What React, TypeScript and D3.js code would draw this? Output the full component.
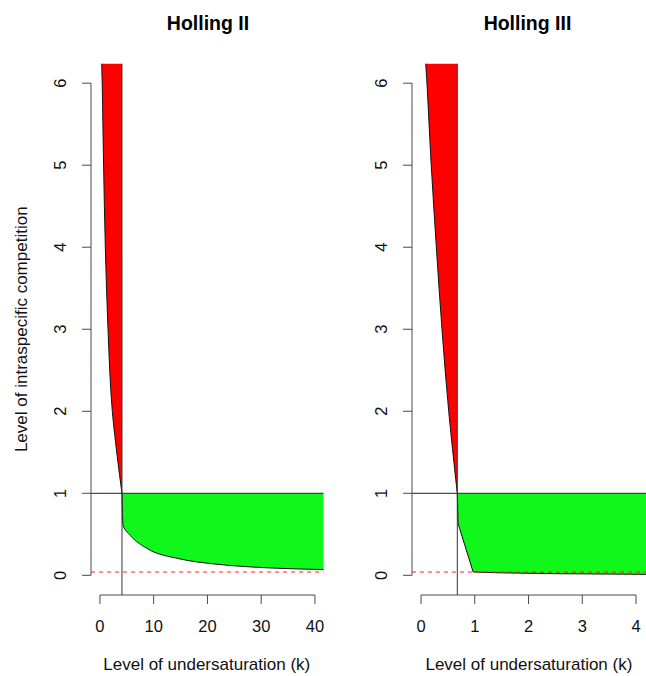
import React from "react";
import * as d3 from "d3";

// ---- data ----
const yTicks = [0, 1, 2, 3, 4, 5, 6];
const xTicksII = [0, 10, 20, 30, 40];
const xTicksIII = [0, 1, 2, 3, 4];

const kStarII = 4.1;
const kMaxII = 41.6;
const redKII = [0.32, 0.42, 0.68, 1.0, 1.5, 2.3, 4.1];
const redYII = [6.24, 6, 5, 4, 3, 2, 1];
const greenKII = [4.1, 4.3, 5.6, 8.7, 14.9, 21, 27.3, 33.5, 41.6];
const greenYII = [1, 0.61, 0.49, 0.33, 0.2, 0.14, 0.105, 0.085, 0.07];

const kStarIII = 0.675;
const kMaxIII = 4.2;
const redKIII = [0.087, 0.11, 0.19, 0.285, 0.39, 0.515, 0.675];
const redYIII = [6.24, 6, 5, 4, 3, 2, 1];
const greenKIII = [0.675, 0.69, 0.97, 1.5, 2.5, 3.5, 4.2];
const greenYIII = [1, 0.63, 0.04, 0.03, 0.02, 0.015, 0.012];

const threshold = 0.04;
const yTop = 6.24;

const W = 646;
const H = 676;
const FONT = "Liberation Sans, Arial, Helvetica, sans-serif";
const AXIS = "#4a4a4a";

function expand(lo: number, hi: number): [number, number] {
  const d = (hi - lo) * 0.04;
  return [lo - d, hi + d];
}

type PanelProps = {
  title: string;
  titleX: number;
  left: number;
  right: number;
  xMax: number;
  xTicks: number[];
  kStar: number;
  kMax: number;
  redK: number[];
  redY: number[];
  greenK: number[];
  greenY: number[];
  curve: d3.CurveFactory;
  showYLabel: boolean;
  clipId: string;
};

const yScale = d3.scaleLinear().domain(expand(0, 6)).range([595, 63.5]);

function Panel(p: PanelProps) {
  const x = d3.scaleLinear().domain(expand(0, p.xMax)).range([p.left, p.right]);
  const y = yScale;
  const bottom = y.range()[0];

  const redPts: [number, number][] = p.redK.map((k, i) => [x(k), y(p.redY[i])]);
  const greenPts: [number, number][] = p.greenK.map((k, i) => [x(k), y(p.greenY[i])]);

  const redLine = d3.line().curve(d3.curveCatmullRom.alpha(0.5))(redPts) || "";
  const greenLine = d3.line().curve(p.curve)(greenPts) || "";

  const redArea =
    redLine +
    `L${x(p.kStar)},${y(p.redY[p.redY.length - 1])}L${x(p.kStar)},${y(yTop)}Z`;
  const greenArea = greenLine + `L${x(p.kMax)},${y(1)}L${x(p.kStar)},${y(1)}Z`;

  const axisX = p.left;
  const midX = (p.left + p.right) / 2;

  return (
    <g>
      <defs>
        <clipPath id={p.clipId}>
          <rect x={p.left} y={y.range()[1]} width={p.right - p.left} height={bottom - y.range()[1]} />
        </clipPath>
      </defs>
      <g clipPath={`url(#${p.clipId})`}>
        <path d={redArea} fill="#ff0000" stroke="none" />
        <path d={greenArea} fill="#10f71c" stroke="none" />
        <path d={redLine} fill="none" stroke="#111" strokeWidth={1} />
        <path d={greenLine} fill="none" stroke="#111" strokeWidth={1} />
        <line x1={p.left} x2={x(p.kMax)} y1={y(1)} y2={y(1)} stroke="#222" strokeWidth={1} />
        <line x1={x(p.kStar)} x2={x(p.kStar)} y1={y(yTop)} y2={bottom} stroke="#333" strokeWidth={1} />
        <line
          x1={p.left}
          x2={x(p.kMax)}
          y1={y(threshold)}
          y2={y(threshold)}
          stroke="#ff2020"
          strokeWidth={1}
          strokeDasharray="4,4"
        />
      </g>
      {/* y axis */}
      <line x1={axisX} x2={axisX} y1={y(0)} y2={y(6)} stroke={AXIS} strokeWidth={1} />
      {yTicks.map((t) => (
        <g key={"y" + t}>
          <line x1={axisX - 9} x2={axisX} y1={y(t)} y2={y(t)} stroke={AXIS} strokeWidth={1} />
          <text
            transform={`translate(${axisX - 25},${y(t)}) rotate(-90)`}
            textAnchor="middle"
            fontFamily={FONT}
            fontSize={16.5}
            fill="#111"
          >
            {t}
          </text>
        </g>
      ))}
      {/* x axis */}
      <line
        x1={x(p.xTicks[0])}
        x2={x(p.xTicks[p.xTicks.length - 1])}
        y1={bottom}
        y2={bottom}
        stroke={AXIS}
        strokeWidth={1}
      />
      {p.xTicks.map((t) => (
        <g key={"x" + t}>
          <line x1={x(t)} x2={x(t)} y1={bottom} y2={bottom + 9} stroke={AXIS} strokeWidth={1} />
          <text x={x(t)} y={632} textAnchor="middle" fontFamily={FONT} fontSize={16.5} fill="#111">
            {t}
          </text>
        </g>
      ))}
      <text x={p.titleX} y={30} textAnchor="middle" fontFamily={FONT} fontSize={19.5} fontWeight="bold" fill="#000">
        {p.title}
      </text>
      <text x={midX - 5} y={670} textAnchor="middle" fontFamily={FONT} fontSize={17} fill="#111">
        Level of undersaturation (k)
      </text>
      {p.showYLabel && (
        <text
          transform={`translate(27,${(y.range()[0] + y.range()[1]) / 2}) rotate(-90)`}
          textAnchor="middle"
          fontFamily={FONT}
          fontSize={17}
          fill="#111"
        >
          Level of intraspecific competition
        </text>
      )}
    </g>
  );
}

export default function App() {
  return (
    <svg
      width={W}
      height={H}
      viewBox={`0 0 ${W} ${H}`}
      style={{ position: "absolute", left: 0, top: 0, background: "#fff" }}
    >
      <rect x={0} y={0} width={W} height={H} fill="#fff" />
      <Panel
        title="Holling II"
        titleX={208}
        left={91}
        right={332.5}
        xMax={kMaxII}
        xTicks={xTicksII}
        kStar={kStarII}
        kMax={kMaxII}
        redK={redKII}
        redY={redYII}
        greenK={greenKII}
        greenY={greenYII}
        curve={d3.curveMonotoneX}
        showYLabel={true}
        clipId="clipII"
      />
      <Panel
        title="Holling III"
        titleX={527.5}
        left={412}
        right={655.8}
        xMax={kMaxIII}
        xTicks={xTicksIII}
        kStar={kStarIII}
        kMax={kMaxIII}
        redK={redKIII}
        redY={redYIII}
        greenK={greenKIII}
        greenY={greenYIII}
        curve={d3.curveLinear}
        showYLabel={false}
        clipId="clipIII"
      />
    </svg>
  );
}
